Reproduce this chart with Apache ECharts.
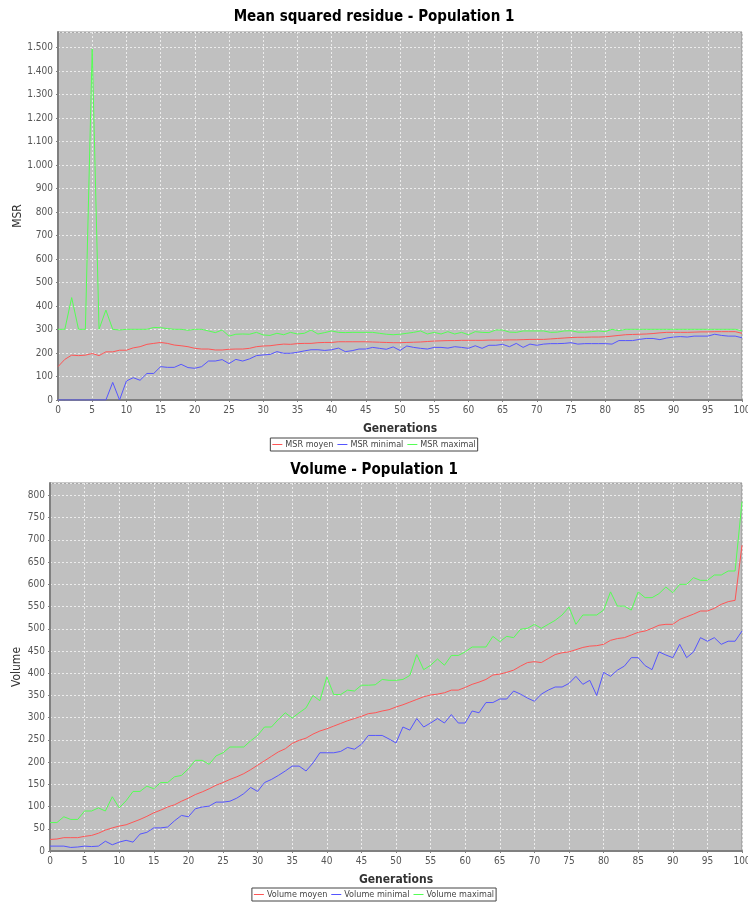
<!DOCTYPE html>
<html>
<head>
<meta charset="utf-8">
<script src="https://cdn.jsdelivr.net/npm/echarts@6/dist/echarts.min.js"></script>
<style>
  html, body { margin: 0; padding: 0; background: #ffffff; }
  #chart { width: 748px; height: 904px; }
</style>
</head>
<body>
<div id="chart"></div>
<script>
// Generations 0..100 on the x axis of both panels
const generations = Array.from({ length: 101 }, (_, i) => i);

// Mean squared residue per generation
const msrMoyen = [142,173,191,189,191,198,189,205,205,212,212,222,227,237,241,245,241,234,231,227,
  220,217,217,213,213,216,217,217,220,227,230,231,235,238,237,240,241,241,244,245,
  245,248,248,248,248,248,247,246,245,244,244,245,246,247,249,251,252,253,253,254,
  254,254,254,255,255,255,256,256,257,258,258,258,260,262,264,266,267,267,268,268,
  269,272,275,278,279,280,281,283,286,288,288,288,288,289,290,290,291,291,291,291,284];
const msrMinimal = [0,0,0,0,0,0,0,0,75,0,81,95,84,113,113,142,139,139,152,138,
  135,142,166,166,172,155,173,166,175,189,192,194,206,199,199,203,209,214,214,211,
  214,221,206,210,217,217,224,220,216,226,211,230,224,220,217,224,224,221,227,224,
  220,231,220,233,233,237,227,241,224,238,233,238,240,240,241,244,238,240,240,240,
  240,238,253,253,253,258,262,262,257,264,268,270,268,272,272,272,280,275,272,272,265];
const msrMaximal = [301,301,436,301,301,1495,301,383,301,298,301,301,301,301,309,308,304,301,301,297,
  301,301,294,287,298,272,280,281,280,288,277,275,284,278,288,281,284,298,281,287,
  294,288,287,288,288,288,288,284,280,278,280,284,288,294,281,288,281,291,281,288,
  278,291,288,287,298,298,289,288,294,294,294,294,288,289,294,295,289,289,291,294,
  291,301,295,301,301,301,301,301,301,301,301,301,301,301,301,301,301,301,301,301,295];

// Volume per generation
const volMoyen = [26,27,30,30,30,33,35,40,47,52,56,59,65,71,78,86,92,99,104,112,
  119,127,133,140,148,154,161,167,174,183,193,203,213,223,230,242,249,254,263,270,
  275,281,287,293,298,303,309,311,315,318,324,329,335,341,347,351,353,356,362,362,
  368,375,380,386,396,398,402,407,416,424,426,424,433,442,446,448,453,458,461,462,
  465,474,478,480,486,492,495,501,508,510,510,521,527,533,540,540,546,555,561,564,688];
const volMinimal = [11,11,11,8,9,11,10,11,22,14,20,24,20,38,42,52,52,54,68,80,
  77,95,99,101,110,110,112,119,129,143,134,154,161,170,180,191,191,180,198,221,
  221,221,224,233,229,240,260,260,260,252,243,279,272,298,279,288,298,288,307,288,
  288,315,311,334,334,342,342,360,353,344,337,353,362,369,369,377,393,375,384,350,
  402,393,407,416,435,435,417,408,448,441,435,465,435,448,480,472,480,465,472,472,495];
const volMaximal = [64,64,77,71,71,90,90,97,90,122,97,113,134,134,146,140,154,154,167,170,
  185,204,204,195,214,221,234,234,234,248,260,279,279,296,311,299,311,322,350,338,
  392,352,352,362,360,373,373,374,386,384,384,386,395,442,408,418,432,418,440,440,
  448,459,459,459,483,471,483,480,499,501,510,501,510,519,531,549,510,531,531,531,
  542,583,551,551,542,583,570,570,579,594,581,600,600,615,609,609,621,621,630,630,786];

const seriesNames = {
  msr: ['MSR moyen', 'MSR minimal', 'MSR maximal'],
  vol: ['Volume moyen', 'Volume minimal', 'Volume maximal']
};
const lineColors = ['#ff5555', '#5555ff', '#55ff55'];

const FONT = '"DejaVu Sans Condensed", "DejaVu Sans", sans-serif';

function thousands(v) {
  return String(v).replace(/\B(?=(\d{3})+(?!\d))/g, '.');
}

function pairs(values) {
  return values.map((v, i) => [generations[i], v]);
}

function xAxisFor(gridIndex) {
  return {
    type: 'value', gridIndex, min: 0, max: 100, interval: 5,
    name: 'Generations', nameLocation: 'middle', nameGap: 23, nameMoveOverlap: false,
    nameTextStyle: { fontFamily: FONT, fontSize: 12, color: '#333', fontWeight: 'bold' },
    axisLine: { show: true, onZero: false, lineStyle: { color: '#808080', width: 2 } },
    axisTick: { show: true, length: 2, lineStyle: { color: '#808080' } },
    axisLabel: { fontFamily: FONT, fontSize: 10, color: '#555', margin: 5 },
    splitLine: { show: true, lineStyle: { color: '#ffffff', type: [2, 2], width: 1, opacity: 0.7 } }
  };
}

function yAxisFor(gridIndex, name, max, interval, gap) {
  return {
    type: 'value', gridIndex, min: 0, max, interval,
    name, nameLocation: 'middle', nameGap: gap, nameRotate: 90, nameMoveOverlap: false,
    nameTextStyle: { fontFamily: FONT, fontSize: 12, color: '#333' },
    axisLine: { show: true, lineStyle: { color: '#808080', width: 2 } },
    axisTick: { show: true, length: 2, lineStyle: { color: '#808080' } },
    axisLabel: { fontFamily: FONT, fontSize: 10, color: '#555', margin: 5,
      showMaxLabel: false, formatter: v => thousands(v) },
    splitLine: { show: true, lineStyle: { color: '#ffffff', type: [2, 2], width: 1, opacity: 0.7 } }
  };
}

function lineSeries(name, values, idx, axisIndex) {
  return {
    name, type: 'line', data: pairs(values),
    xAxisIndex: axisIndex, yAxisIndex: axisIndex,
    showSymbol: false, symbol: 'none',
    lineStyle: { width: 1, color: lineColors[idx] },
    itemStyle: { color: lineColors[idx] },
    z: 5 - idx
  };
}

function legendFor(names, top) {
  return {
    data: names, left: 'center', top,
    orient: 'horizontal',
    icon: 'rect', itemWidth: 10, itemHeight: 1, itemGap: 4,
    borderColor: '#444', borderWidth: 1, padding: [2, 2, 2, 2],
    textStyle: { fontFamily: FONT, fontSize: 9, color: '#444', padding: [0, 0, 0, -2] }
  };
}

const chart = echarts.init(document.getElementById('chart'), null, { renderer: 'canvas' });
chart.setOption({
  animation: false,
  backgroundColor: '#ffffff',
  title: [
    { text: 'Mean squared residue - Population 1', left: 'center', top: 5,
      textStyle: { fontFamily: FONT, fontSize: 15, fontWeight: 'bold', color: '#000' } },
    { text: 'Volume - Population 1', left: 'center', top: 458,
      textStyle: { fontFamily: FONT, fontSize: 15, fontWeight: 'bold', color: '#000' } }
  ],
  legend: [
    legendFor(seriesNames.msr, 438),
    legendFor(seriesNames.vol, 888)
  ],
  grid: [
    { left: 58, right: 6, top: 32, height: 368, show: true, outerBoundsMode: 'none',
      backgroundColor: '#c0c0c0', borderColor: '#909090', borderWidth: 1 },
    { left: 50, right: 6, top: 483, height: 368, show: true, outerBoundsMode: 'none',
      backgroundColor: '#c0c0c0', borderColor: '#909090', borderWidth: 1 }
  ],
  xAxis: [xAxisFor(0), xAxisFor(1)],
  yAxis: [
    yAxisFor(0, 'MSR', 1567, 100, 34),
    yAxisFor(1, 'Volume', 828, 50, 27)
  ],
  series: [
    lineSeries(seriesNames.msr[0], msrMoyen, 0, 0),
    lineSeries(seriesNames.msr[1], msrMinimal, 1, 0),
    lineSeries(seriesNames.msr[2], msrMaximal, 2, 0),
    lineSeries(seriesNames.vol[0], volMoyen, 0, 1),
    lineSeries(seriesNames.vol[1], volMinimal, 1, 1),
    lineSeries(seriesNames.vol[2], volMaximal, 2, 1)
  ]
});
</script>
</body>
</html>
